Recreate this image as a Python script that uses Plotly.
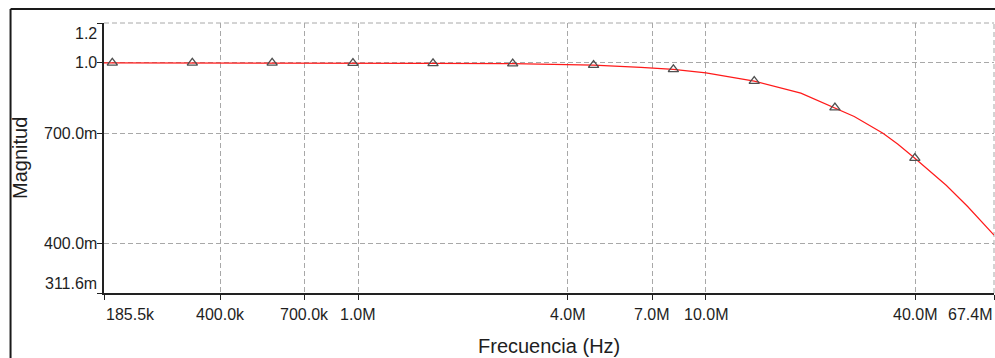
import math
import plotly.graph_objects as go

# ---- data ----
line_freq = [185.5e3, 196e3, 333e3, 565e3, 965e3, 1.64e6, 2.78e6, 3.6e6, 4.75e6, 6.5e6,
             8.06e6, 10e6, 13.77e6, 18.75e6, 23.5e6, 26.7e6, 32.3e6, 35.6e6, 39.9e6,
             49.1e6, 56.6e6, 67.4e6]
line_mag = [1.0, 1.0, 1.0, 1.0, 0.999, 0.998, 0.996, 0.994, 0.989, 0.978,
            0.968, 0.951, 0.912, 0.858, 0.797, 0.762, 0.70, 0.663, 0.617,
            0.538, 0.483, 0.418]
marker_freq = [196e3, 333e3, 565e3, 965e3, 1.64e6, 2.78e6, 4.75e6, 8.06e6, 13.77e6, 23.5e6, 39.9e6]
marker_mag = [1.0, 1.0, 1.0, 0.999, 0.998, 0.996, 0.989, 0.968, 0.912, 0.797, 0.617]

x_tick_vals = [185.5e3, 400e3, 700e3, 1e6, 4e6, 7e6, 10e6, 40e6, 67.4e6]
x_tick_text = ["185.5k", "400.0k", "700.0k", "1.0M", "4.0M", "7.0M", "10.0M", "40.0M", "67.4M"]
y_tick_vals = [0.3116, 0.4, 0.7, 1.0, 1.224]
y_tick_text = ["311.6m", "400.0m", "700.0m", "1.0", "1.2"]

x_title = "Frecuencia (Hz)"
y_title = "Magnitud"

FONT = "Liberation Sans, Arial, sans-serif"
TXT = "#1e1e1e"
GRID = "#a8a8a8"

fig = go.Figure()
fig.add_trace(go.Scatter(x=line_freq, y=line_mag, mode="lines",
                         line=dict(color="#ff1a1a", width=1.2),
                         hoverinfo="skip"))
fig.add_trace(go.Scatter(x=marker_freq, y=marker_mag, mode="markers",
                         marker=dict(symbol="triangle-up-open", size=9,
                                     color="#505050", line=dict(width=1.3, color="#505050"))))

xr = [math.log10(x_tick_vals[0]), math.log10(x_tick_vals[-1])]
yr = [math.log10(y_tick_vals[0]), math.log10(y_tick_vals[-1])]

annotations = []
n = len(x_tick_vals)
for i, (v, t) in enumerate(zip(x_tick_vals, x_tick_text)):
    anchor = "left" if i == 0 else ("right" if i == n - 1 else "center")
    annotations.append(dict(x=math.log10(v), xref="x", y=0, yref="paper", text=t,
                            showarrow=False, xanchor=anchor, yanchor="middle", yshift=-21,
                            font=dict(family=FONT, size=16, color=TXT)))
m = len(y_tick_vals)
for i, (v, t) in enumerate(zip(y_tick_vals, y_tick_text)):
    if i == 0:
        y, yref, ys = 0, "paper", 10
    elif i == m - 1:
        y, yref, ys = 1, "paper", -10
    else:
        y, yref, ys = math.log10(v), "y", 0
    annotations.append(dict(x=0, xref="paper", y=y, yref=yref, text=t, showarrow=False,
                            xanchor="right", yanchor="middle", xshift=-5, yshift=ys,
                            font=dict(family=FONT, size=16, color=TXT)))
annotations.append(dict(x=0.5, xref="paper", y=0, yref="paper", text=x_title, showarrow=False,
                        xanchor="center", yanchor="middle", yshift=-53,
                        font=dict(family=FONT, size=20, color=TXT)))
annotations.append(dict(x=-0.0944, xref="paper", y=0.5, yref="paper", text=y_title, showarrow=False,
                        xanchor="center", yanchor="middle", textangle=-90,
                        font=dict(family=FONT, size=20, color=TXT)))

shapes = [
    dict(type="line", xref="paper", yref="paper", x0=-0.105, x1=1.1, y0=1.052, y1=1.052,
         line=dict(color="#1a1a1a", width=2)),
    dict(type="line", xref="paper", yref="paper", x0=-0.105, x1=-0.105, y0=-0.4, y1=1.052,
         line=dict(color="#1a1a1a", width=2)),
    dict(type="line", xref="paper", yref="paper", x0=0, x1=1, y0=1, y1=1,
         line=dict(color=GRID, width=1, dash="5px,3px"), layer="below"),
    dict(type="line", xref="paper", yref="paper", x0=1, x1=1, y0=0, y1=1,
         line=dict(color=GRID, width=1, dash="5px,3px"), layer="below"),
]

fig.update_layout(
    width=995, height=358,
    margin=dict(l=104, r=1, t=23, b=65),
    paper_bgcolor="white", plot_bgcolor="white",
    showlegend=False,
    annotations=annotations, shapes=shapes,
    xaxis=dict(type="log", range=xr, tickmode="array", tickvals=x_tick_vals,
               showticklabels=False, ticks="outside", ticklen=5, tickcolor="#222",
               showline=True, linecolor="#222", linewidth=1.5,
               showgrid=True, gridcolor=GRID, gridwidth=1, griddash="5px,3px",
               zeroline=False),
    yaxis=dict(type="log", range=yr, tickmode="array", tickvals=y_tick_vals,
               showticklabels=False, ticks="outside", ticklen=5, tickcolor="#222",
               showline=True, linecolor="#222", linewidth=1.5,
               showgrid=True, gridcolor=GRID, gridwidth=1, griddash="5px,3px",
               zeroline=False),
)

fig.write_html("out.html", config={"displayModeBar": False},
               post_script="document.body.style.margin='0';document.body.style.overflow='hidden';")
